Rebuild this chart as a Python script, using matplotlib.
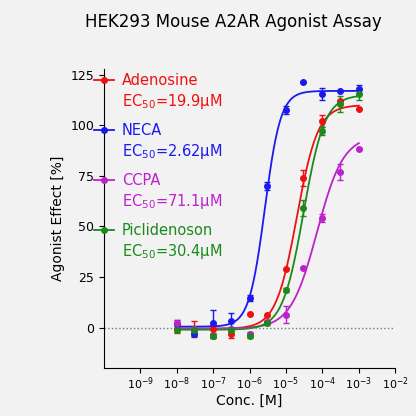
import numpy as np
import matplotlib
matplotlib.use("Agg")
import matplotlib.pyplot as plt

conc = [1e-8, 3e-8, 1e-7, 3e-7, 1e-6, 3e-6, 1e-5, 3e-5, 1e-4, 3e-4, 1e-3]
names = ["Adenosine", "NECA", "CCPA", "Piclidenoson"]
ec50_labels = ["19.9μM", "2.62μM", "71.1μM", "30.4μM"]
colors = ["#ee1111", "#1a1aee", "#bb22cc", "#1a8a1a"]
adenosine = [-0.5, -0.5, -0.5, -3, 7, 6.5, 29, 74, 102, 112, 108]
neca = [2, -3, 2.5, 3.5, 14.5, 70, 107.5, 121.5, 115.5, 117, 118]
ccpa = [2.5, -0.5, -4, -0.5, -3, 3, 6.5, 29.5, 54, 77, 88.5]
piclidenoson = [-1, -1, -4, -1, -4, 2.5, 18.5, 59, 97, 110.5, 115.5]
err_aden = [2, 4, 2, 2, 0, 0, 0, 4, 3, 0, 0]
err_neca = [2, 1, 6, 4, 1.5, 2, 2, 0, 3, 0, 2]
err_ccpa = [1.5, 1, 1, 1, 1, 1, 4, 0, 2, 4, 0]
err_picl = [1, 1, 1, 1, 1, 1, 1, 4, 2, 4, 3]
# 4PL fit params: bottom, top, ec50, hill
fits = [(-0.5, 110, 19.9e-6, 1.5), (0.5, 117, 2.62e-6, 2.0),
        (-0.5, 95, 71.1e-6, 1.2), (-1, 115, 30.4e-6, 1.5)]

series = [adenosine, neca, ccpa, piclidenoson]
errs = [err_aden, err_neca, err_ccpa, err_picl]

bg = "#f2f2f2"
fig = plt.figure(figsize=(4.16, 4.16), dpi=100, facecolor=bg)
ax = fig.add_axes([0.25, 0.115, 0.70, 0.72], facecolor=bg)
xs = np.logspace(-8, -3, 300)
for vals, e, (b, t, c, h), col in zip(series, errs, fits, colors):
    ax.plot(xs, b + (t - b) / (1 + (c / xs) ** h), color=col, lw=1.3)
    ax.errorbar(conc, vals, yerr=e, fmt="o", color=col, ms=4, capsize=2, elinewidth=1)
ax.axhline(0, color="#777777", ls=":", lw=1)
ax.set_xscale("log")
ax.set_xlim(1e-10, 1e-2)
ax.set_ylim(-20, 128)
ax.set_xticks([10.0**k for k in range(-9, -1)])
ax.set_yticks([0, 25, 50, 75, 100, 125])
ax.tick_params(axis="y", labelsize=9)
ax.tick_params(axis="x", labelsize=8, pad=2)
for s in ["top", "right"]:
    ax.spines[s].set_visible(False)
ax.set_xlabel("Conc. [M]", fontsize=10, labelpad=1)
ax.set_ylabel("Agonist Effect [%]", fontsize=10)
fig.text(0.56, 0.935, "HEK293 Mouse A2AR Agonist Assay", ha="center", fontsize=12)
for i, (n, lab, col) in enumerate(zip(names, ec50_labels, colors)):
    y = 0.795 - i * 0.12
    fig.text(0.293, y, n, color=col, fontsize=10.5)
    fig.text(0.293, y - 0.05, "EC$_{50}$=" + lab, color=col, fontsize=10.5)
    fig.lines.append(plt.Line2D([0.225, 0.275], [y + 0.012] * 2, color=col, lw=1.3, transform=fig.transFigure))
    fig.lines.append(plt.Line2D([0.25], [y + 0.012], color=col, marker="o", ms=4, transform=fig.transFigure))
fig.savefig("out.png", dpi=100, facecolor=bg)
